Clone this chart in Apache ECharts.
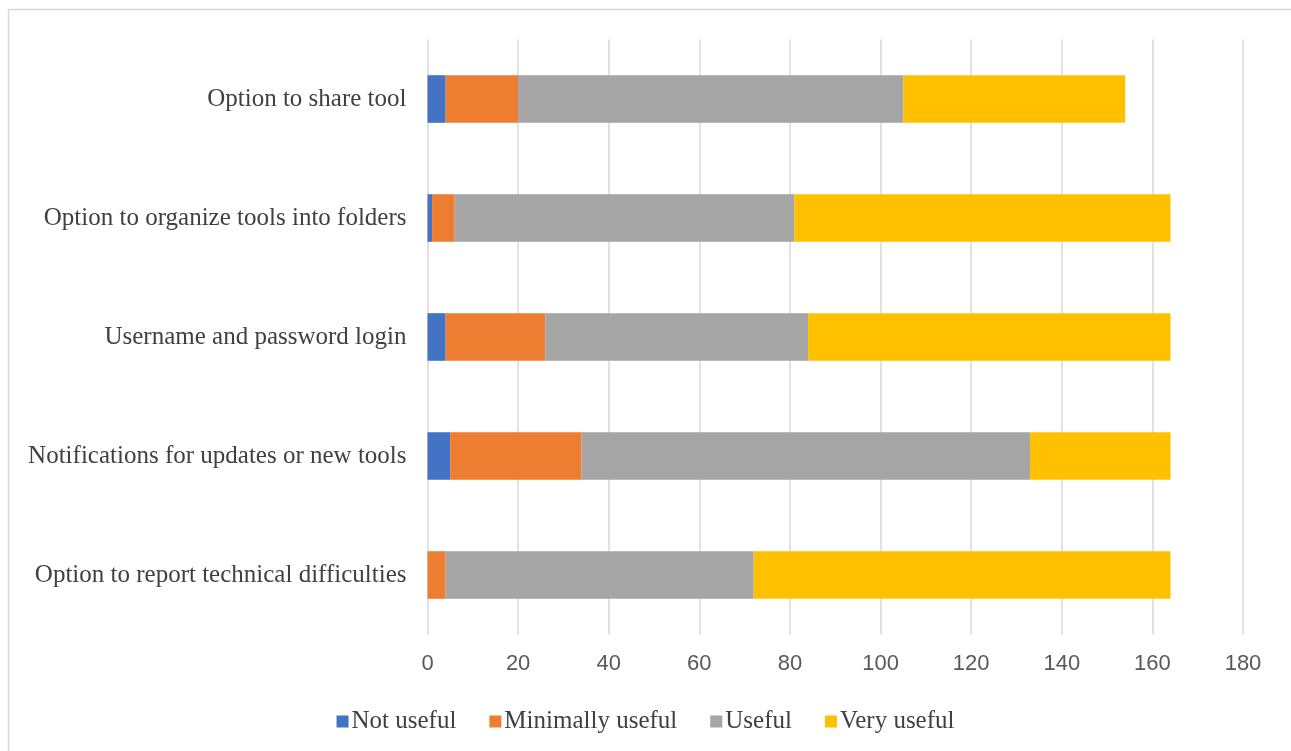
<!DOCTYPE html>
<html>
<head>
<meta charset="utf-8">
<script src="https://cdn.jsdelivr.net/npm/echarts@6/dist/echarts.min.js"></script>
<style>
  html, body { margin: 0; padding: 0; background: #fff; }
  #chart { width: 1291px; height: 751px; }
</style>
</head>
<body>
<div id="chart"></div>
<script>
// Survey features, bottom to top as drawn on the category axis
const features = [
  'Option to report technical difficulties',
  'Notifications for updates or new tools',
  'Username and password login',
  'Option to organize tools into folders',
  'Option to share tool'
];
const seriesNames = ['Not useful', 'Minimally useful', 'Useful', 'Very useful'];
const notUseful = [0, 5, 4, 1, 4];
const minimallyUseful = [4, 29, 22, 5, 16];
const useful = [68, 99, 58, 75, 85];
const veryUseful = [92, 31, 80, 83, 49];
const xTicks = [0, 20, 40, 60, 80, 100, 120, 140, 160, 180];

const values = [notUseful, minimallyUseful, useful, veryUseful];
const colors = ['#4472c4', '#ed7d31', '#a5a5a5', '#ffc000'];

const chart = echarts.init(document.getElementById('chart'), null, { renderer: 'canvas' });

chart.setOption({
  backgroundColor: '#ffffff',
  animation: false,
  graphic: [{
    type: 'rect',
    shape: { x: 8.5, y: 9.5, width: 1300, height: 760 },
    style: { fill: 'none', stroke: '#d9d9d9', lineWidth: 1.5 },
    silent: true
  }],
  grid: { left: 427.5, right: 48, top: 39.5, height: 595, containLabel: false },
  legend: {
    top: 704,
    left: 'center',
    itemWidth: 12,
    itemHeight: 12,
    itemGap: 33,
    icon: 'rect',
    textStyle: { fontFamily: 'Liberation Serif', fontSize: 25, color: '#404040', padding: [0, 0, 0, -2] },
    data: seriesNames
  },
  xAxis: {
    type: 'value',
    min: xTicks[0],
    max: xTicks[xTicks.length - 1],
    interval: xTicks[1] - xTicks[0],
    axisLine: { show: false },
    axisTick: { show: false },
    splitLine: { show: true, lineStyle: { color: '#d9d9d9', width: 1.5 } },
    axisLabel: { fontFamily: 'Liberation Sans', fontSize: 22, color: '#595959', margin: 18 }
  },
  yAxis: {
    type: 'category',
    data: features,
    axisLine: { show: false },
    axisTick: { show: false },
    axisLabel: { fontFamily: 'Liberation Serif', fontSize: 25, color: '#404040', margin: 21 }
  },
  series: seriesNames.map((name, i) => ({
    name,
    type: 'bar',
    stack: 'total',
    barWidth: '40%',
    itemStyle: { color: colors[i] },
    emphasis: { disabled: true },
    data: values[i]
  }))
});
</script>
</body>
</html>
